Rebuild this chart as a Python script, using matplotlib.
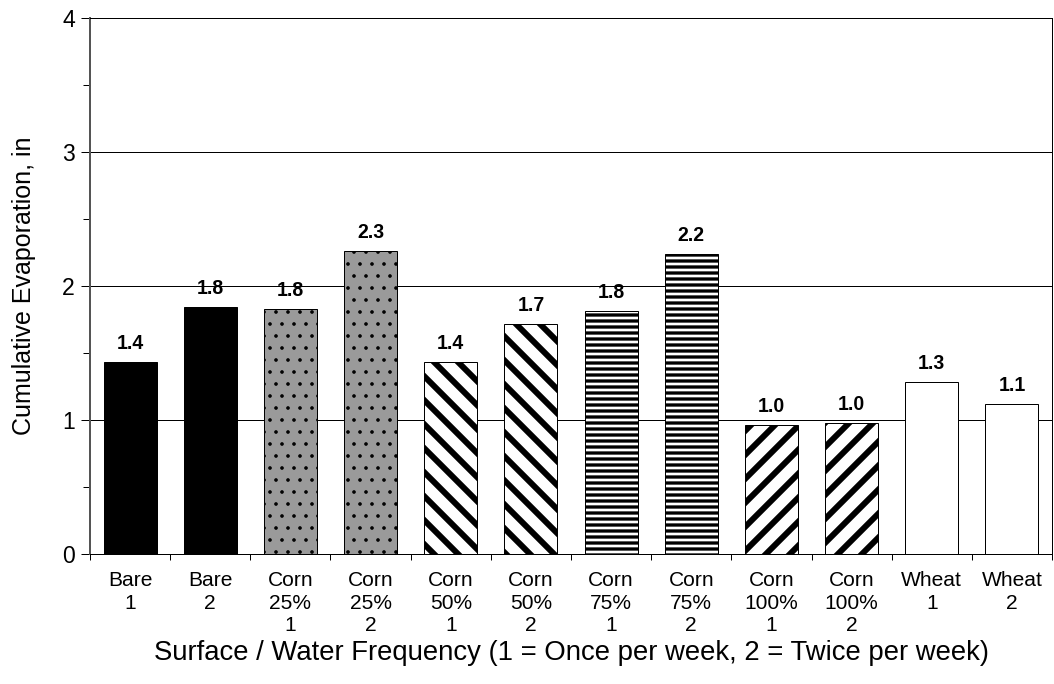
import matplotlib
matplotlib.use("Agg")
import matplotlib.pyplot as plt
import numpy as np

categories = ["Bare\n1", "Bare\n2", "Corn\n25%\n1", "Corn\n25%\n2",
              "Corn\n50%\n1", "Corn\n50%\n2", "Corn\n75%\n1", "Corn\n75%\n2",
              "Corn\n100%\n1", "Corn\n100%\n2", "Wheat\n1", "Wheat\n2"]
evaporation = [1.43, 1.84, 1.83, 2.26, 1.43, 1.72, 1.81, 2.24, 0.96, 0.98, 1.28, 1.12]
value_labels = ["1.4", "1.8", "1.8", "2.3", "1.4", "1.7", "1.8", "2.2", "1.0", "1.0", "1.3", "1.1"]

# fill style per surface: (facecolor, hatch, hatch linewidth)
styles = [("black", None, 1.0), ("black", None, 1.0),
          ("#9a9a9a", ".", 1.2), ("#9a9a9a", ".", 1.2),
          ("white", "\\", 6.0), ("white", "\\", 6.0),
          ("white", "--", 3.3), ("white", "--", 3.3),
          ("white", "/", 6.0), ("white", "/", 6.0),
          ("white", None, 1.0), ("white", None, 1.0)]

plt.rcParams["font.family"] = ["Liberation Sans", "DejaVu Sans"]

DPI = 72
fig = plt.figure(figsize=(1054 / DPI, 684 / DPI), dpi=DPI)
ax = fig.add_axes([90 / 1054, 1 - 554 / 684, 962 / 1054, 536 / 684])

x = np.arange(len(categories))
for i, (val, (fc, hatch, hlw)) in enumerate(zip(evaporation, styles)):
    with plt.rc_context({"hatch.linewidth": hlw}):
        bar = ax.bar(x[i], val, width=0.66, color=fc, edgecolor="black",
                     linewidth=1.0, hatch=hatch, zorder=3)[0]
    if hasattr(bar, "set_hatch_linewidth"):
        bar.set_hatch_linewidth(hlw)
    ax.annotate(value_labels[i], (x[i], val), xytext=(0, 13),
                textcoords="offset points", ha="center", va="baseline",
                fontsize=19.5, fontweight="bold")

ax.set_xlim(-0.5, len(categories) - 0.5)
ax.set_ylim(0, 4)

# y axis
ax.set_yticks([0, 1, 2, 3, 4])
ax.set_yticklabels(["0", "1", "2", "3", "4"], fontsize=23)
ax.set_yticks([0.5, 1.5, 2.5, 3.5], minor=True)
ax.tick_params(axis="y", which="major", length=9, width=1, direction="out", pad=6)
ax.tick_params(axis="y", which="minor", length=7, width=1, direction="out")
ax.grid(axis="y", which="major", color="black", linewidth=1.0, zorder=0)

# x axis: ticks between categories, labels at centres
ax.set_xticks(np.arange(len(categories) + 1) - 0.5)
ax.set_xticklabels([""] * (len(categories) + 1))
ax.set_xticks(x, minor=True)
ax.set_xticklabels(categories, minor=True, fontsize=21, linespacing=1.24)
ax.tick_params(axis="x", which="major", length=6, width=1, direction="out")
ax.tick_params(axis="x", which="minor", length=0, pad=17)

for side in ["top", "right", "bottom"]:
    ax.spines[side].set_color("black")
    ax.spines[side].set_linewidth(1.0)
ax.spines["left"].set_color("#555555")
ax.spines["left"].set_linewidth(2.0)

ax.set_ylabel("Cumulative Evaporation, in", fontsize=25, labelpad=26)
ax.set_xlabel("Surface / Water Frequency (1 = Once per week, 2 = Twice per week)",
              fontsize=27.5, labelpad=5)

fig.savefig("out.png", dpi=DPI)
